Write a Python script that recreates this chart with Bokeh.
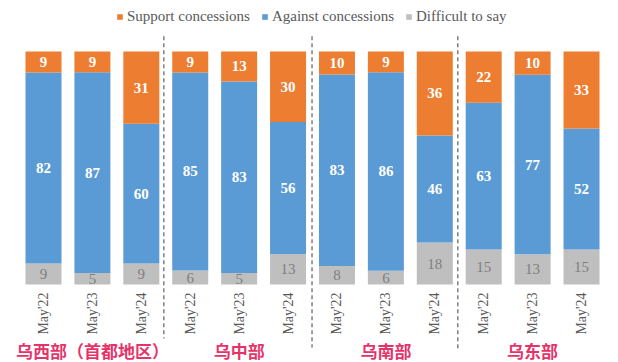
import math
from bokeh.plotting import figure
from bokeh.models import ColumnDataSource, Range1d, Legend, LegendItem
from bokeh.core.properties import value
from bokeh.embed import file_html
from bokeh.resources import INLINE

# ---- data ----
regions = ["乌西部（首都地区）", "乌中部", "乌南部", "乌东部"]
periods = ["May'22", "May'23", "May'24"]
series_names = ["Support concessions", "Against concessions", "Difficult to say"]
support = [9, 9, 31, 9, 13, 30, 10, 9, 36, 22, 10, 33]
against = [82, 87, 60, 85, 83, 56, 83, 86, 46, 63, 77, 52]
difficult = [9, 5, 9, 6, 5, 13, 8, 6, 18, 15, 13, 15]

ORANGE = "#ED7D31"
BLUE = "#5B9BD5"
GRAY = "#BFBFBF"
SERIF = "'Liberation Serif', 'Times New Roman', serif"

n = len(support)
xs = list(range(n))
tot = [s + a + d for s, a, d in zip(support, against, difficult)]
d_top = [d / t * 100 for d, t in zip(difficult, tot)]
a_top = [dt + a / t * 100 for dt, a, t in zip(d_top, against, tot)]
s_top = [100.0] * n

src = ColumnDataSource(dict(
    x=xs,
    d0=[0] * n, d1=d_top,
    a0=d_top, a1=a_top,
    s0=a_top, s1=s_top,
    dmid=[(0 + b) / 2 for b in d_top],
    amid=[(a + b) / 2 for a, b in zip(d_top, a_top)],
    smid=[(a + b) / 2 for a, b in zip(a_top, s_top)],
    dlab=[str(v) for v in difficult],
    alab=[str(v) for v in against],
    slab=[str(v) for v in support],
))

p = figure(width=618, height=362,
           x_range=Range1d(-0.8792, 11.756), y_range=Range1d(-33.48, 121.89),
           output_backend="svg", toolbar_location=None,
           x_axis_location=None, y_axis_location=None, min_border=0)
p.grid.visible = False
p.outline_line_color = None
p.background_fill_color = "white"
p.border_fill_color = "white"

W = 0.736
r_d = p.vbar(x="x", bottom="d0", top="d1", width=W, source=src, fill_color=GRAY, line_color=None)
r_a = p.vbar(x="x", bottom="a0", top="a1", width=W, source=src, fill_color=BLUE, line_color=None)
r_s = p.vbar(x="x", bottom="s0", top="s1", width=W, source=src, fill_color=ORANGE, line_color=None)

# value labels
p.text(x="x", y="smid", text="slab", source=src, text_color="white", text_font=value(SERIF),
       text_font_style="bold", text_font_size="15px", text_align="center", text_baseline="middle")
p.text(x="x", y="amid", text="alab", source=src, text_color="white", text_font=value(SERIF),
       text_font_style="bold", text_font_size="15px", text_align="center", text_baseline="middle")
p.text(x="x", y="dmid", text="dlab", source=src, text_color="#808080", text_font=value(SERIF),
       text_font_size="15px", text_align="center", text_baseline="middle")

# category tick labels (rotated)
tick_src = ColumnDataSource(dict(x=xs, y=[-3.4] * n, t=[periods[i % 3] for i in xs]))
p.text(x="x", y="y", text="t", source=tick_src, angle=math.pi / 2, text_color="#595959",
       text_font=value(SERIF), text_font_size="14px", text_align="right", text_baseline="middle")

# region labels
reg_src = ColumnDataSource(dict(x=[3 * g + 1 for g in range(len(regions))], y=[-28.3] * len(regions), t=regions))
p.text(x="x", y="y", text="t", source=reg_src, text_color="#E5336A",
       text_font=value("Noto Sans CJK SC"), text_font_style="bold", text_font_size="17px",
       text_align="center", text_baseline="middle")

# dashed separators
p.segment(x0=[2.46, 5.49, 8.47], y0=[106.5] * 3, x1=[2.46, 5.49, 8.47], y1=[-23.2, -27.0, -28.3],
          line_color="#7F7F7F", line_width=1.5, line_dash="4 3")

legend = Legend(items=[
    LegendItem(label=series_names[0], renderers=[r_s]),
    LegendItem(label=series_names[1], renderers=[r_a]),
    LegendItem(label=series_names[2], renderers=[r_d]),
], orientation="horizontal", location=(116, 337))
legend.glyph_width = 7
legend.glyph_height = 7
legend.label_standoff = 4
legend.spacing = 11
legend.padding = 0
legend.margin = 0
legend.label_height = 16
legend.label_text_font = SERIF
legend.label_text_font_size = "15px"
legend.label_text_color = "#595959"
legend.border_line_color = None
legend.background_fill_alpha = 0
p.add_layout(legend)

open("out.html", "w").write(file_html(p, INLINE))
